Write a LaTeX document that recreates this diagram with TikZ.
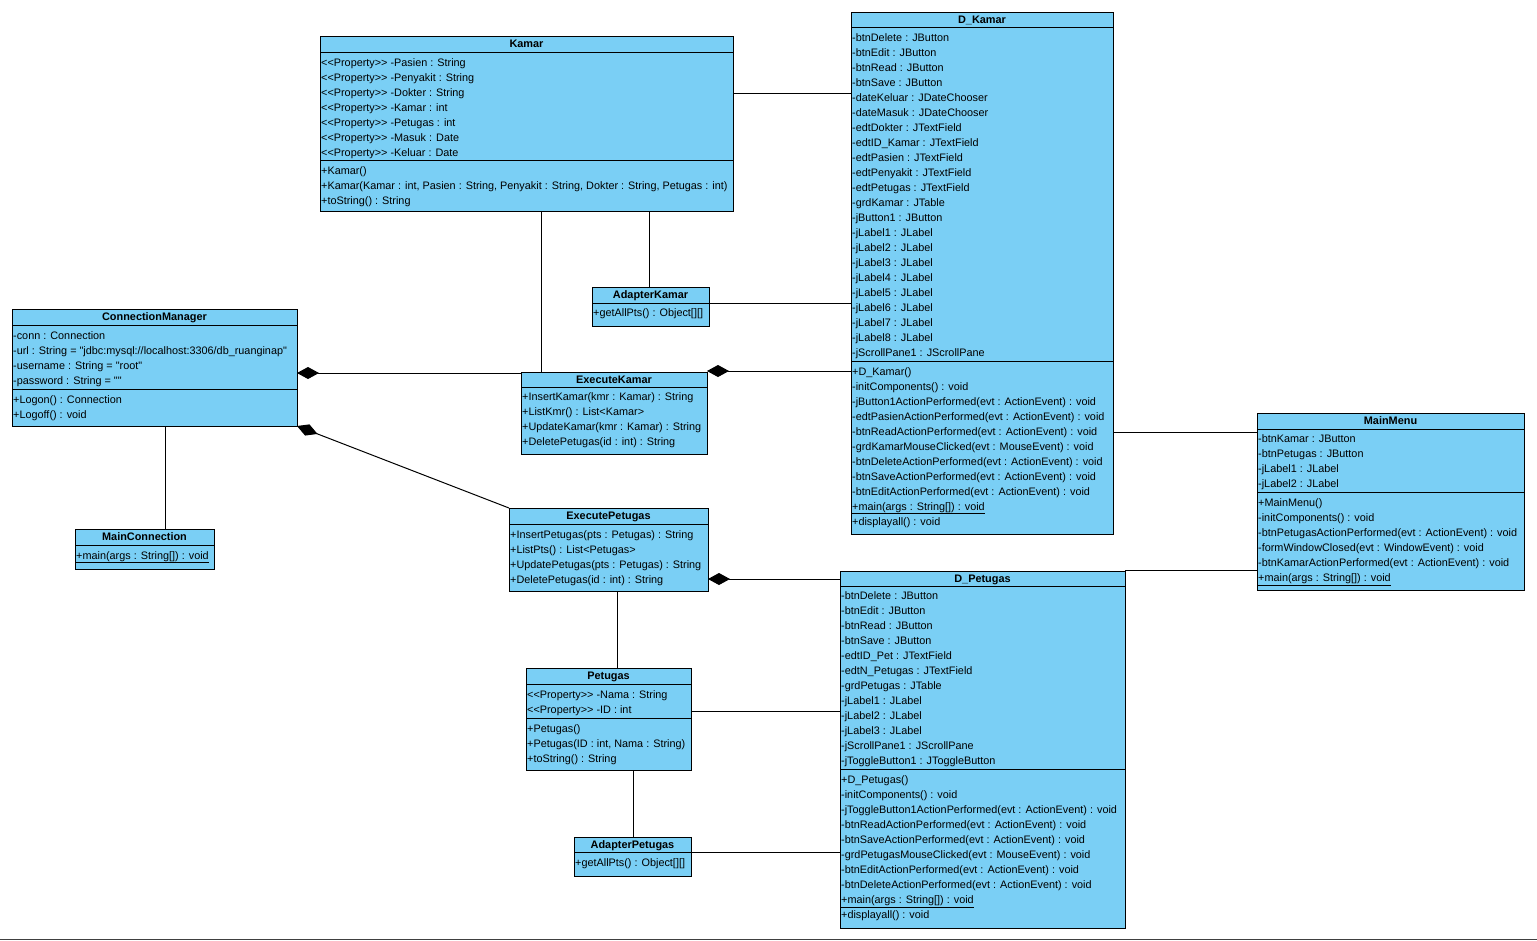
\documentclass[tikz,border=0pt]{standalone}
\usepackage{fontspec}
\newfontfamily\vpfont{Liberation Sans}
\usetikzlibrary{arrows.meta}
\definecolor{vpblue}{RGB}{122,207,245}
\tikzset{
  box/.style={draw=black, fill=vpblue, line width=1pt, rectangle, inner sep=0pt, outer sep=0pt, anchor=north west},
  sepline/.style={draw=black, line width=1pt},
  ttl/.style={font=\vpfont\bfseries\fontsize{10.9}{13}\selectfont, inner sep=0pt, anchor=base},
  row/.style={font=\vpfont\fontsize{10.85}{13}\selectfont, inner sep=0pt, anchor=base west},
  conn/.style={draw=black, line width=1pt},
  comp/.style={conn, {Diamond[length=22pt,width=12pt]}-},
}
% name, x1, y1, x2, y2, title
\newcommand\umlbox[6]{%
  \node[box, minimum width={#4-#2}, minimum height={#5-#3}] (#1) at (#2,#3) {};
  \node[ttl] (#1-t) at ({(#2+#4)/2}, #3+11.5) {#6};
}
% name, y of separator
\newcommand\umlsep[2]{%
  \draw[sepline] (#1.west |- 0,#2) -- (#1.east |- 0,#2);
}
% node prefix, x, first baseline, list
\newcommand\umlrows[4]{%
  \foreach \rowtext [count=\i from 0] in {#4} {\node[row] (#1\i) at (#2, #3+15*\i) {\rowtext};}
}
\begin{document}
\begin{tikzpicture}[x=1pt,y=-1pt]
\useasboundingbox (0,0) rectangle (1537,940);
\fill[white] (0,0) rectangle (1537,940);
\draw[line width=1pt, draw=black!75] (0,939.5) -- (1537,939.5);

% ---------- Kamar
\umlbox{kamar}{320}{36}{733}{211}{Kamar}
\umlsep{kamar}{52}
\umlsep{kamar}{160}
\umlrows{kamar-a}{321}{66}{{<<Property>> -Pasien : String},{<<Property>> -Penyakit : String},{<<Property>> -Dokter : String},{<<Property>> -Kamar : int},{<<Property>> -Petugas : int},{<<Property>> -Masuk : Date},{<<Property>> -Keluar : Date}}
\umlrows{kamar-m}{321}{174}{{+Kamar()},{+Kamar(Kamar : int, Pasien : String, Penyakit : String, Dokter : String, Petugas : int)},{+toString() : String}}

% ---------- D_Kamar
\umlbox{dkamar}{851}{12}{1113}{534}{D\_Kamar}
\umlsep{dkamar}{27.5}
\umlsep{dkamar}{361}
\umlrows{dkamar-a}{852}{41.5}{{-btnDelete : JButton},{-btnEdit : JButton},{-btnRead : JButton},{-btnSave : JButton},{-dateKeluar : JDateChooser},{-dateMasuk : JDateChooser},{-edtDokter : JTextField},{-edtID\_Kamar : JTextField},{-edtPasien : JTextField},{-edtPenyakit : JTextField},{-edtPetugas : JTextField},{-grdKamar : JTable},{-jButton1 : JButton},{-jLabel1 : JLabel},{-jLabel2 : JLabel},{-jLabel3 : JLabel},{-jLabel4 : JLabel},{-jLabel5 : JLabel},{-jLabel6 : JLabel},{-jLabel7 : JLabel},{-jLabel8 : JLabel},{-jScrollPane1 : JScrollPane}}
\umlrows{dkamar-m}{852}{375}{{+D\_Kamar()},{-initComponents() : void},{-jButton1ActionPerformed(evt : ActionEvent) : void},{-edtPasienActionPerformed(evt : ActionEvent) : void},{-btnReadActionPerformed(evt : ActionEvent) : void},{-grdKamarMouseClicked(evt : MouseEvent) : void},{-btnDeleteActionPerformed(evt : ActionEvent) : void},{-btnSaveActionPerformed(evt : ActionEvent) : void},{-btnEditActionPerformed(evt : ActionEvent) : void},{\underline{+main(args : String[]) : void}},{+displayall() : void}}

% ---------- ConnectionManager
\umlbox{cm}{12}{309}{297}{426}{ConnectionManager}
\umlsep{cm}{325}
\umlsep{cm}{389}
\umlrows{cm-a}{13}{339}{{-conn : Connection},{-url : String = "jdbc:mysql://localhost:3306/db\_ruanginap"},{-username : String = "root"},{-password : String = ""}}
\umlrows{cm-m}{13}{403}{{+Logon() : Connection},{+Logoff() : void}}

% ---------- MainConnection
\umlbox{mc}{75}{529}{214}{569}{MainConnection}
\umlsep{mc}{545}
\umlrows{mc-m}{76}{559}{{\underline{+main(args : String[]) : void}}}

% ---------- AdapterKamar
\umlbox{ak}{592}{287}{709}{326}{AdapterKamar}
\umlsep{ak}{303}
\umlrows{ak-m}{593}{316.5}{{+getAllPts() : Object[][]}}

% ---------- ExecuteKamar
\umlbox{ek}{521}{372}{707}{454}{ExecuteKamar}
\umlsep{ek}{387}
\umlrows{ek-m}{522}{400.5}{{+InsertKamar(kmr : Kamar) : String},{+ListKmr() : List<Kamar>},{+UpdateKamar(kmr : Kamar) : String},{+DeletePetugas(id : int) : String}}

% ---------- ExecutePetugas
\umlbox{ep}{509}{508}{708}{591}{ExecutePetugas}
\umlsep{ep}{524}
\umlrows{ep-m}{510}{538.5}{{+InsertPetugas(pts : Petugas) : String},{+ListPts() : List<Petugas>},{+UpdatePetugas(pts : Petugas) : String},{+DeletePetugas(id : int) : String}}

% ---------- Petugas
\umlbox{pet}{526}{668}{691}{770}{Petugas}
\umlsep{pet}{684}
\umlsep{pet}{718}
\umlrows{pet-a}{527}{698.5}{{<<Property>> -Nama : String},{<<Property>> -ID : int}}
\umlrows{pet-m}{527}{732.5}{{+Petugas()},{+Petugas(ID : int, Nama : String)},{+toString() : String}}

% ---------- AdapterPetugas
\umlbox{ap}{574}{837}{691}{876}{AdapterPetugas}
\umlsep{ap}{852}
\umlrows{ap-m}{575}{866}{{+getAllPts() : Object[][]}}

% ---------- D_Petugas
\umlbox{dpet}{840}{571}{1125}{928}{D\_Petugas}
\umlsep{dpet}{586}
\umlsep{dpet}{769}
\umlrows{dpet-a}{841}{599.5}{{-btnDelete : JButton},{-btnEdit : JButton},{-btnRead : JButton},{-btnSave : JButton},{-edtID\_Pet : JTextField},{-edtN\_Petugas : JTextField},{-grdPetugas : JTable},{-jLabel1 : JLabel},{-jLabel2 : JLabel},{-jLabel3 : JLabel},{-jScrollPane1 : JScrollPane},{-jToggleButton1 : JToggleButton}}
\umlrows{dpet-m}{841}{783.5}{{+D\_Petugas()},{-initComponents() : void},{-jToggleButton1ActionPerformed(evt : ActionEvent) : void},{-btnReadActionPerformed(evt : ActionEvent) : void},{-btnSaveActionPerformed(evt : ActionEvent) : void},{-grdPetugasMouseClicked(evt : MouseEvent) : void},{-btnEditActionPerformed(evt : ActionEvent) : void},{-btnDeleteActionPerformed(evt : ActionEvent) : void},{\underline{+main(args : String[]) : void}},{+displayall() : void}}

% ---------- MainMenu
\umlbox{mm}{1257}{413}{1524}{590}{MainMenu}
\umlsep{mm}{429}
\umlsep{mm}{492}
\umlrows{mm-a}{1258}{442.5}{{-btnKamar : JButton},{-btnPetugas : JButton},{-jLabel1 : JLabel},{-jLabel2 : JLabel}}
\umlrows{mm-m}{1258}{506.5}{{+MainMenu()},{-initComponents() : void},{-btnPetugasActionPerformed(evt : ActionEvent) : void},{-formWindowClosed(evt : WindowEvent) : void},{-btnKamarActionPerformed(evt : ActionEvent) : void},{\underline{+main(args : String[]) : void}}}

% ---------- connectors
\draw[conn] (kamar.east |- 0,93) -- (dkamar.west |- 0,93);
\draw[conn] (kamar.south -| 541,0) -- (ek.north -| 541,0);
\draw[conn] (kamar.south -| 649,0) -- (ak.north -| 649,0);
\draw[conn] (ak.east |- 0,303.5) -- (dkamar.west |- 0,303.5);
\draw[comp] (cm.east |- 0,373) -- (ek.west |- 0,373);
\draw[comp] (ek.east |- 0,371) -- (dkamar.west |- 0,371);
\draw[comp] (cm.south east) -- (ep.north west);
\draw[conn] (cm.south -| 165,0) -- (mc.north -| 165,0);
\draw[comp] (ep.east |- 0,579) -- (dpet.west |- 0,579);
\draw[conn] (ep.south -| 617,0) -- (pet.north -| 617,0);
\draw[conn] (pet.east |- 0,711) -- (dpet.west |- 0,711);
\draw[conn] (pet.south -| 633,0) -- (ap.north -| 633,0);
\draw[conn] (ap.east |- 0,852) -- (dpet.west |- 0,852);
\draw[conn] (dkamar.east |- 0,432) -- (mm.west |- 0,432);
\draw[conn] (dpet.east |- 0,570) -- (mm.west |- 0,570);
\end{tikzpicture}
\end{document}
